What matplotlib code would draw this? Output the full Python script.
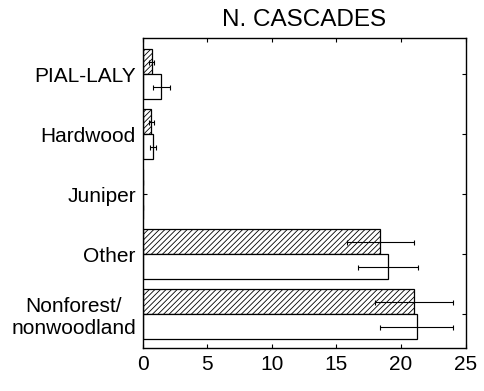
import numpy as np
import matplotlib
matplotlib.use('Agg')
import matplotlib.pyplot as plt

plt.rcParams['font.family'] = ['Liberation Sans', 'DejaVu Sans']
plt.rcParams['hatch.linewidth'] = 0.6

# categories bottom to top
categories = ['Nonforest/\nnonwoodland', 'Other', 'Juniper', 'Hardwood', 'PIAL-LALY']
hatched_vals = [21.0, 18.4, 0.0, 0.65, 0.7]
hatched_err = [3.0, 2.6, 0.0, 0.2, 0.2]
open_vals = [21.2, 19.0, 0.0, 0.78, 1.42]
open_err = [2.85, 2.35, 0.0, 0.23, 0.65]
xticks = [0, 5, 10, 15, 20, 25]

y = np.arange(len(categories))
h = 0.42

fig = plt.figure(figsize=(4.84, 3.91), dpi=100)
ax = fig.add_axes([0.295, 0.109, 0.667, 0.793])

ax.barh(y + h / 2, hatched_vals, height=h, color='white', edgecolor='black',
        linewidth=0.9, hatch='//////')
ax.barh(y - h / 2, open_vals, height=h, color='white', edgecolor='black',
        linewidth=0.9)
ax.errorbar(hatched_vals, y + h / 2, xerr=hatched_err, fmt='none',
            ecolor='black', elinewidth=0.8, capsize=1.8, capthick=0.8)
ax.errorbar(open_vals, y - h / 2, xerr=open_err, fmt='none',
            ecolor='black', elinewidth=0.8, capsize=1.8, capthick=0.8)

ax.set_xlim(0, 25)
ax.set_ylim(-0.57, 4.6)
ax.set_xticks(xticks)
ax.set_yticks(y)
ax.set_yticklabels(categories, multialignment='center')
ax.tick_params(direction='in', length=3, width=0.8, labelsize=15,
               top=True, right=True, pad=5)
for s in ax.spines.values():
    s.set_linewidth(1.0)

ax.set_title('N. CASCADES', fontsize=17.5, pad=9)

fig.savefig('out.png', dpi=100)
plt.close()
